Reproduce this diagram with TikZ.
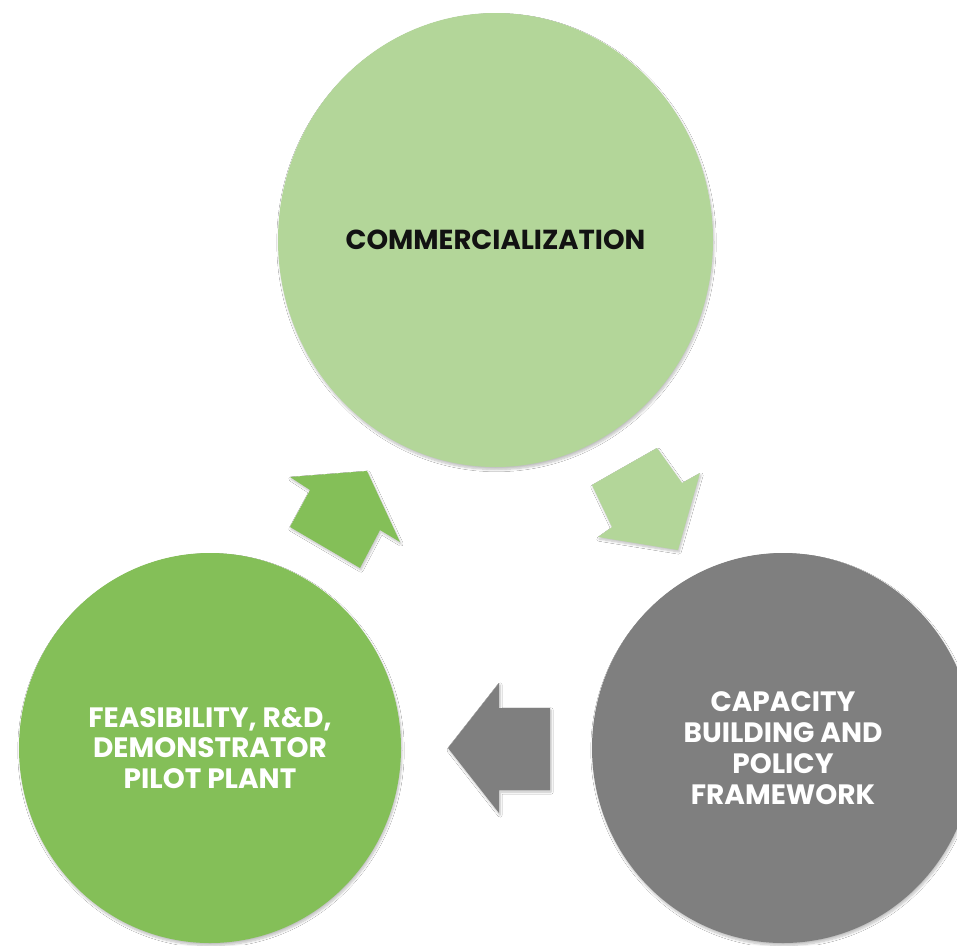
\documentclass[tikz,border=0pt]{standalone}
\usepackage{fontspec}
\setmainfont{Poppins}
\usetikzlibrary{shapes.geometric,shadows.blur}
\definecolor{lightgreen}{HTML}{B3D699}
\definecolor{midgreen}{HTML}{84BF58}
\definecolor{midgray}{HTML}{7F7F7F}
\tikzset{
  disc/.style={ellipse, inner sep=0pt, align=center, font=\bfseries,
    blur shadow={shadow blur steps=8, shadow xshift=1pt, shadow yshift=-2.5pt, shadow opacity=25}},
  blockarrow/.style={blur shadow={shadow blur steps=6, shadow xshift=1pt, shadow yshift=-2pt, shadow opacity=25}}
}
\begin{document}
\begin{tikzpicture}[x=1pt,y=-1pt]
\useasboundingbox (0,0) rectangle (957,945);
\fill[white] (0,0) rectangle (957,945);
% circles
\node[disc, fill=lightgreen, minimum width=435pt, minimum height=454pt,
  font=\fontsize{27.5}{31}\selectfont\bfseries, text=black!93] (T) at (495.5,240) {COMMERCIALIZATION};
\node[disc, fill=midgreen, minimum width=382pt, minimum height=390pt,
  font=\fontsize{28}{30.5}\selectfont\bfseries, text=white] (L) at (210,748)
  {FEASIBILITY, R\&D,\\DEMONSTRATOR\\PILOT PLANT};
\node[disc, fill=midgray, minimum width=382pt, minimum height=390pt,
  font=\fontsize{28}{31}\selectfont\bfseries, text=white] (R) at (783,748)
  {CAPACITY\\BUILDING AND\\POLICY\\FRAMEWORK};
% block arrows
\fill[midgreen, blockarrow] (290,477) -- (367,471) -- (400,542) -- (380,530)
  -- (360,568) -- (290,527) -- (310,490) -- cycle;
\fill[lightgreen, blockarrow] (592,485) -- (657,448) -- (682,483) -- (700,473)
  -- (678,550) -- (598,537) -- (612,527) -- cycle;
\fill[midgray, blockarrow] (448,748) -- (499,683) -- (499,708) -- (550,708)
  -- (550,790) -- (499,790) -- (499,813) -- cycle;
\end{tikzpicture}
\end{document}
